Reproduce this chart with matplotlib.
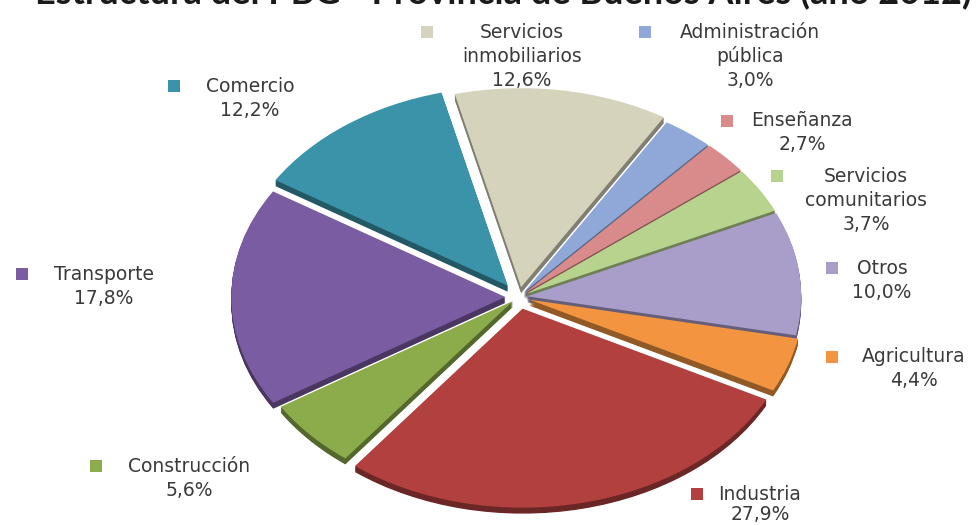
import matplotlib.pyplot as plt
import matplotlib.colors as mcolors
import numpy as np

plt.rcParams["font.family"] = ["DejaVu Sans"]

# PBG structure by sector, clockwise from the top
sectors = ["Servicios\ninmobiliarios", "Administración\npública", "Enseñanza",
           "Servicios\ncomunitarios", "Otros", "Agricultura", "Industria",
           "Construcción", "Transporte", "Comercio"]
shares = [12.6, 3.0, 2.7, 3.7, 10.0, 4.4, 27.9, 5.6, 17.8, 12.2]
pct_labels = ["12,6%", "3,0%", "2,7%", "3,7%", "10,0%", "4,4%", "27,9%",
              "5,6%", "17,8%", "12,2%"]
title = "Estructura del PBG - Provincia de Buenos Aires (año 2012)"

colors = ["#d6d3bd", "#8fa8d8", "#d98a8a", "#b8d38e", "#a99dc9",
          "#f29440", "#b2403f", "#8cab4b", "#7a5ca3", "#3b93a9"]
explode = [0.05, 0.03, 0.03, 0.03, 0.03, 0.04, 0.06, 0.03, 0.05, 0.07]

# label layout in pixels: square x, text centre x, first line y
sq_x = [427, 645, 727, 777, 832, 832, 697, 96, 22, 174]
name_x = [522, 750, 802, 866, 882, 914, 760, 189, 104, 250]
line_y = [32, 32, 121, 176, 268, 357, 494, 466, 274, 86]

W, H = 980, 525
fig = plt.figure(figsize=(W / 100, H / 100), dpi=100)
fig.patch.set_facecolor("white")

# pie axes: radius 1 -> rx px wide, ry px tall (tilted look)
ax = fig.add_axes([0, 0, 1, 1])
cx, cy, rx, ry = 519, 297, 274, 199

depth = 0.03
side_colors = [tuple(np.array(mcolors.to_rgb(c)) * 0.6) for c in colors]
for d in np.linspace(depth, 0.004, 8):
    ax.pie(shares, colors=side_colors, explode=explode, startangle=104,
           counterclock=False, center=(0, -d),
           wedgeprops=dict(linewidth=0))
ax.pie(shares, colors=colors, explode=explode, startangle=104,
       counterclock=False, center=(0, 0),
       wedgeprops=dict(linewidth=0))
ax.set_aspect("auto")
ax.set_xlim(-cx / rx, (W - cx) / rx)
ax.set_ylim(-(H - cy) / ry, cy / ry)
ax.axis("off")

# overlay in pixel coordinates for labels and title
ov = fig.add_axes([0, 0, 1, 1])
ov.set_xlim(0, W)
ov.set_ylim(H, 0)
ov.axis("off")
ov.patch.set_alpha(0)

txt = "#3a3a3a"
step = 24
for name, pct, c, sx, nx, y in zip(sectors, pct_labels, colors,
                                   sq_x, name_x, line_y):
    ov.scatter([sx], [y], marker="s", s=80, color=c, linewidths=0)
    lines = name.split("\n")
    for i, ln in enumerate(lines):
        ov.text(nx, y + i * step, ln, ha="center", va="center",
                fontsize=13.5, color=txt)
    ov.text(nx, min(y + len(lines) * step, 515), pct, ha="center",
            va="center", fontsize=13.5, color=txt)

ov.text(503, 4, title, ha="center", va="baseline", fontsize=26,
        fontweight="bold", color="#1a1a1a", family="Lato")

fig.savefig("out.png", dpi=100)
